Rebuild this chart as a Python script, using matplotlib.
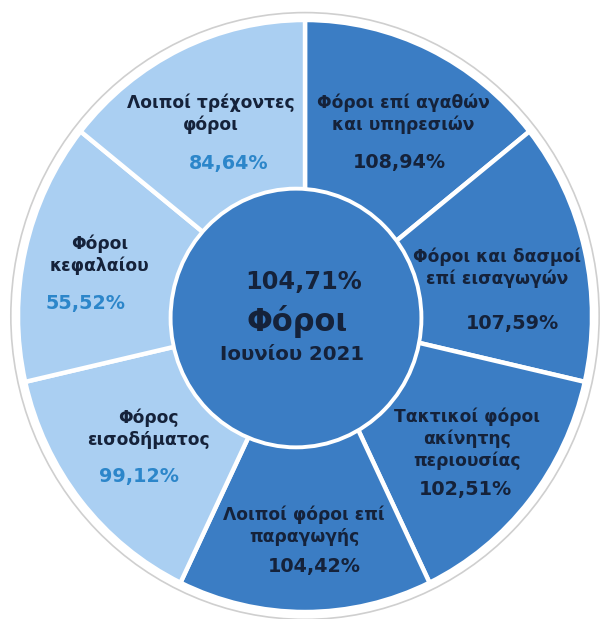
import numpy as np
import matplotlib
matplotlib.use("Agg")
from matplotlib import pyplot as plt
from matplotlib.patches import Circle

# Slices clockwise from the top
labels = [
    "Φόροι επί αγαθών\nκαι υπηρεσιών",
    "Φόροι και δασμοί\nεπί εισαγωγών",
    "Τακτικοί φόροι\nακίνητης\nπεριουσίας",
    "Λοιποί φόροι επί\nπαραγωγής",
    "Φόρος\nεισοδήματος",
    "Φόροι\nκεφαλαίου",
    "Λοιποί τρέχοντες\nφόροι",
]
percent = [108.94, 107.59, 102.51, 104.42, 99.12, 55.52, 84.64]
total_percent = 104.71
center_title = "Φόροι"
center_sub = "Ιουνίου 2021"

# pixel nudges of the label / percentage relative to the slice middle (x right, y up)
name_nudge = [(8, 9), (-11, 0), (-1, 11), (-1, 5), (6, 21), (-2, 13), (-4, 9)]
pct_nudge = [(4, -40), (4, -55), (-2, -40), (9, -36), (-3, -27), (-16, -35), (14, -41)]

DARK = "#3b7dc4"
LIGHT = "#aacff2"
TEXT_DARK = "#15223a"
TEXT_BLUE = "#2c86ca"


def fmt(v):
    return "{:.2f}%".format(v).replace(".", ",")


fig = plt.figure(figsize=(6, 6.19), dpi=100)
ax = fig.add_axes([0, 0, 1, 1])

# unit pie; the axis limits stretch it a little taller than wide like the original
colors = [DARK if p >= 100 else LIGHT for p in percent]

ax.add_patch(Circle((0, 0), 1.025, facecolor="white", edgecolor="#cfcfcf", lw=1.2, zorder=0))

wedges, _ = ax.pie([1] * len(percent), colors=colors, radius=1,
                   startangle=90, counterclock=False,
                   wedgeprops=dict(edgecolor="white", linewidth=3.2))

# centre disc
ax.add_patch(Circle((-9 / 287, -2 / 296), 0.437, facecolor=DARK, edgecolor="white", lw=2.8, zorder=5))


def px2data(x, y):
    return (x - 305) / 287, (316 - y) / 296


ax.text(*px2data(304, 282), fmt(total_percent), ha="center", va="center",
        fontsize=17.3, fontweight="bold", color=TEXT_DARK, zorder=6)
ax.text(*px2data(297, 322), center_title, ha="center", va="center",
        fontsize=22, fontweight="bold", color=TEXT_DARK, zorder=6)
ax.text(*px2data(292, 354), center_sub, ha="center", va="center",
        fontsize=14.2, fontweight="bold", color=TEXT_DARK, zorder=6)

# slice labels placed along each slice's middle angle
for w, lab, p, nn, pn in zip(wedges, labels, percent, name_nudge, pct_nudge):
    mid = np.deg2rad((w.theta1 + w.theta2) / 2)
    xy = (0.726 * np.cos(mid), 0.726 * np.sin(mid))
    pct_color = TEXT_DARK if p >= 100 else TEXT_BLUE
    ax.annotate(lab, xy=xy, xytext=nn, textcoords="offset pixels",
                ha="center", va="center", fontsize=12.3, fontweight="bold",
                color=TEXT_DARK, linespacing=1.25, zorder=6)
    ax.annotate(fmt(p), xy=xy, xytext=pn, textcoords="offset pixels",
                ha="center", va="center", fontsize=13.8, fontweight="bold",
                color=pct_color, zorder=6)

ax.set_aspect("auto")
ax.set_xlim(-305 / 287, 295 / 287)
ax.set_ylim(-303 / 296, 316 / 296)
ax.axis("off")

plt.savefig("out.png", dpi=100, facecolor="white")
